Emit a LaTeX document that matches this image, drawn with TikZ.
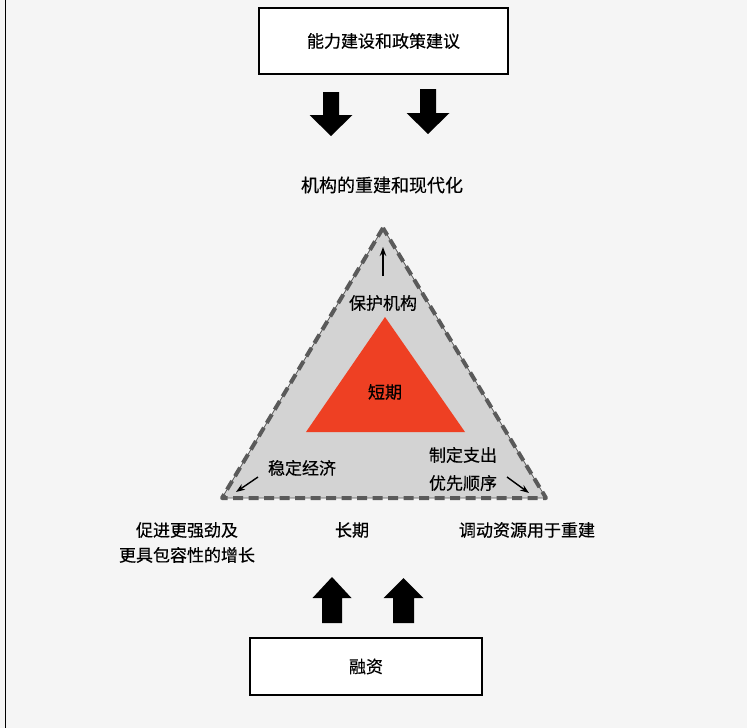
\documentclass[tikz,border=0pt]{standalone}
\usepackage{fontspec}
\newfontfamily\cjkfont[FakeBold=0.4]{Noto Sans CJK SC}
\usetikzlibrary{arrows.meta}
\definecolor{shortred}{HTML}{EE4023}
\definecolor{ringgray}{HTML}{D3D3D3}
\definecolor{edgegray}{HTML}{5A5A5A}
\definecolor{paper}{HTML}{F5F5F5}

\begin{document}
\begin{tikzpicture}[x=1pt, y=-1pt,
        label/.style={font=\cjkfont\fontsize{17}{28}\selectfont, inner sep=0pt, align=center},
        framebox/.style={label, draw, line width=1.2pt, fill=white},
        thinarrow/.style={-{Stealth[length=9pt, width=6.5pt]}, line width=1.4pt}]
        \useasboundingbox (0,0) rectangle (747,728);
        \fill[paper] (0,0) rectangle (747,728);
        \draw[line width=1.2pt] (5.5,0) -- (5.5,728);

        % boxes top and bottom
        \node[framebox, minimum width=249pt, minimum height=66pt] (capacity) at (383.5,41) {能力建设和政策建议};
        \node[framebox, minimum width=232pt, minimum height=57pt] (finance) at (366,666.5) {融资};

        % block arrows
        \fill[black] (323,92) -- (339,92) -- (339,115) -- (352.5,115) -- (331,136) -- (309.5,115) -- (323,115) -- cycle;
        \fill[black] (420,89) -- (436,89) -- (436,113) -- (449.5,113) -- (428,134) -- (406.5,113) -- (420,113) -- cycle;
        \fill[black] (322,623) -- (342,623) -- (342,598) -- (351.5,598) -- (332,577) -- (312.5,598) -- (322,598) -- cycle;
        \fill[black] (393,623) -- (414,623) -- (414,598) -- (423.5,598) -- (403.5,578) -- (383.5,598) -- (393,598) -- cycle;

        \node[label, font=\cjkfont\fontsize{18}{28}\selectfont] (institutions) at (382,185) {机构的重建和现代化};

        % triangle
        \coordinate (apex) at (383,228);
        \coordinate (left) at (222,498);
        \coordinate (right) at (546,498);
        \fill[ringgray] (apex) -- (left) -- (right) -- cycle;
        \draw[edgegray, line width=0.8pt] (apex) -- (left) -- (right) -- cycle;
        \draw[edgegray, line width=4pt, dash pattern=on 10pt off 5.5pt, line join=round] (apex) -- (left) -- (right) -- cycle;
        \fill[shortred] (385,317) -- (306,432) -- (465,432) -- cycle;

        \node[label] (protect) at (383,303) {保护机构};
        \node[label] (shortterm) at (385,392) {短期};
        \node[label] (stabilise) at (302,468) {稳定经济};
        \node[label] (priorities) at (463,469) {制定支出\\优先顺序};

        \coordinate (protectfoot) at (383,276);
        \coordinate (protecttip) at (383,247);
        \coordinate (stabilisefoot) at (258,477);
        \coordinate (stabilisetip) at (236,492);
        \coordinate (prioritiesfoot) at (507,477);
        \coordinate (prioritiestip) at (529,493);
        \draw[thinarrow] (protectfoot) -- (protecttip);
        \draw[thinarrow] (stabilisefoot) -- (stabilisetip);
        \draw[thinarrow] (prioritiesfoot) -- (prioritiestip);

        \node[label, font=\cjkfont\fontsize{17}{25}\selectfont] (growth) at (187,542.5) {促进更强劲及\\更具包容性的增长};
        \node[label] (longterm) at (352,530) {长期};
        \node[label] (mobilise) at (527,530) {调动资源用于重建};
    \end{tikzpicture}
\end{document}
